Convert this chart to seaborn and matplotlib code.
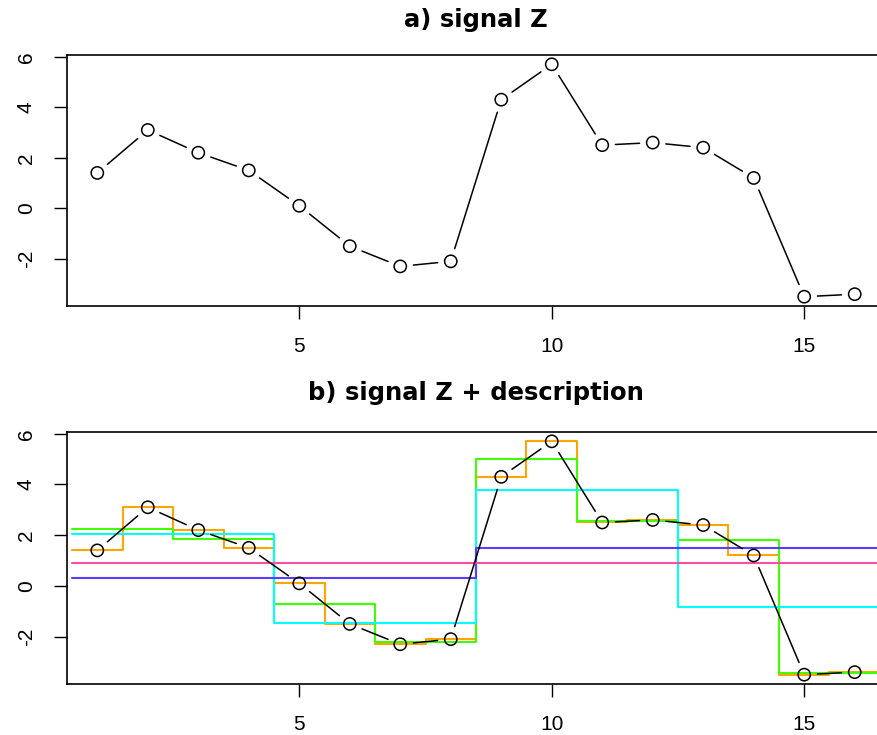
import matplotlib
matplotlib.use("Agg")
import matplotlib.pyplot as plt
import numpy as np
import pandas as pd
import seaborn as sns

# Signal Z, sampled at positions 1..16
positions = list(range(1, 17))
signal_z = [1.4, 3.1, 2.2, 1.5, 0.1, -1.5, -2.3, -2.1,
            4.3, 5.7, 2.5, 2.6, 2.4, 1.2, -3.5, -3.4]

# Piecewise-constant description at successive scales (block averages)
level_1 = [0.8875]
level_2 = [0.3, 1.475]
level_4 = [2.05, -1.45, 3.775, -0.825]
level_8 = [2.25, 1.85, -0.7, -2.2, 5.0, 2.55, 1.8, -3.45]
level_16 = signal_z

x_ticks = [5, 10, 15]
y_ticks = [-2, 0, 2, 4, 6]

sns.set_theme(style="ticks")
plt.rcParams["font.family"] = ["Liberation Sans", "DejaVu Sans"]

fig = plt.figure(figsize=(8.77, 7.35), dpi=100)
W, H = 877, 735
ax_a = fig.add_axes([67 / W, 1 - 306 / H, 818 / W, 251 / H])
ax_b = fig.add_axes([67 / W, 1 - 684 / H, 818 / W, 252 / H])

lo, hi = min(signal_z), max(signal_z)
span = hi - lo
ylim = (lo - 0.04 * span, hi + 0.04 * span)
xlim = (0.4, 16.6)


def draw_signal(ax):
    # connecting segments with a gap around each point
    for i in range(len(positions) - 1):
        ax.annotate("", xy=(positions[i + 1], signal_z[i + 1]),
                    xytext=(positions[i], signal_z[i]),
                    arrowprops=dict(arrowstyle="-", color="black", lw=1.1,
                                    shrinkA=9.5, shrinkB=9.5),
                    zorder=5)
    sns.scatterplot(x=positions, y=signal_z, ax=ax, marker="o", s=78,
                    facecolor="none", edgecolor="black", linewidth=1.1,
                    zorder=6, legend=False)


def draw_steps(ax, levels, color):
    n = len(levels)
    width = 16 / n
    edges = [0.5 + k * width for k in range(n + 1)]
    df = pd.DataFrame({"x": edges, "y": list(levels) + [levels[-1]]})
    sns.lineplot(data=df, x="x", y="y", ax=ax, color=color, lw=1.5,
                 drawstyle="steps-post", estimator=None, sort=False,
                 zorder=3)


def style_axes(ax, title, pad):
    ax.set_xlim(*xlim)
    ax.set_ylim(*ylim)
    ax.set_xticks(x_ticks)
    ax.set_yticks(y_ticks)
    ax.set_xticklabels([str(t) for t in x_ticks])
    ax.set_yticklabels([str(t) for t in y_ticks])
    ax.set_xlabel("")
    ax.set_ylabel("")
    ax.tick_params(axis="both", length=9.5, width=1.0, color="black",
                   labelsize=15, pad=12.5, labelcolor="black")
    ax.tick_params(axis="y", labelrotation=90, pad=13)
    for lab in ax.get_yticklabels():
        lab.set_va("center")
    for sp in ax.spines.values():
        sp.set_visible(True)
        sp.set_color("black")
        sp.set_linewidth(1.2)
    ax.set_facecolor("white")
    ax.set_title(title, fontsize=17.5, fontweight="bold", color="black",
                 family=["DejaVu Sans"], pad=pad)


draw_signal(ax_a)
style_axes(ax_a, "a) signal Z", 20)

draw_steps(ax_b, level_16, "#FFA500")
draw_steps(ax_b, level_8, "#40FF00")
draw_steps(ax_b, level_4, "#00FFFF")
draw_steps(ax_b, level_2, "#5A3CFF")
draw_steps(ax_b, level_1, "#FF4DA6")
draw_signal(ax_b)
style_axes(ax_b, "b) signal Z + description", 23)

fig.savefig("out.png", dpi=100, facecolor="white")
